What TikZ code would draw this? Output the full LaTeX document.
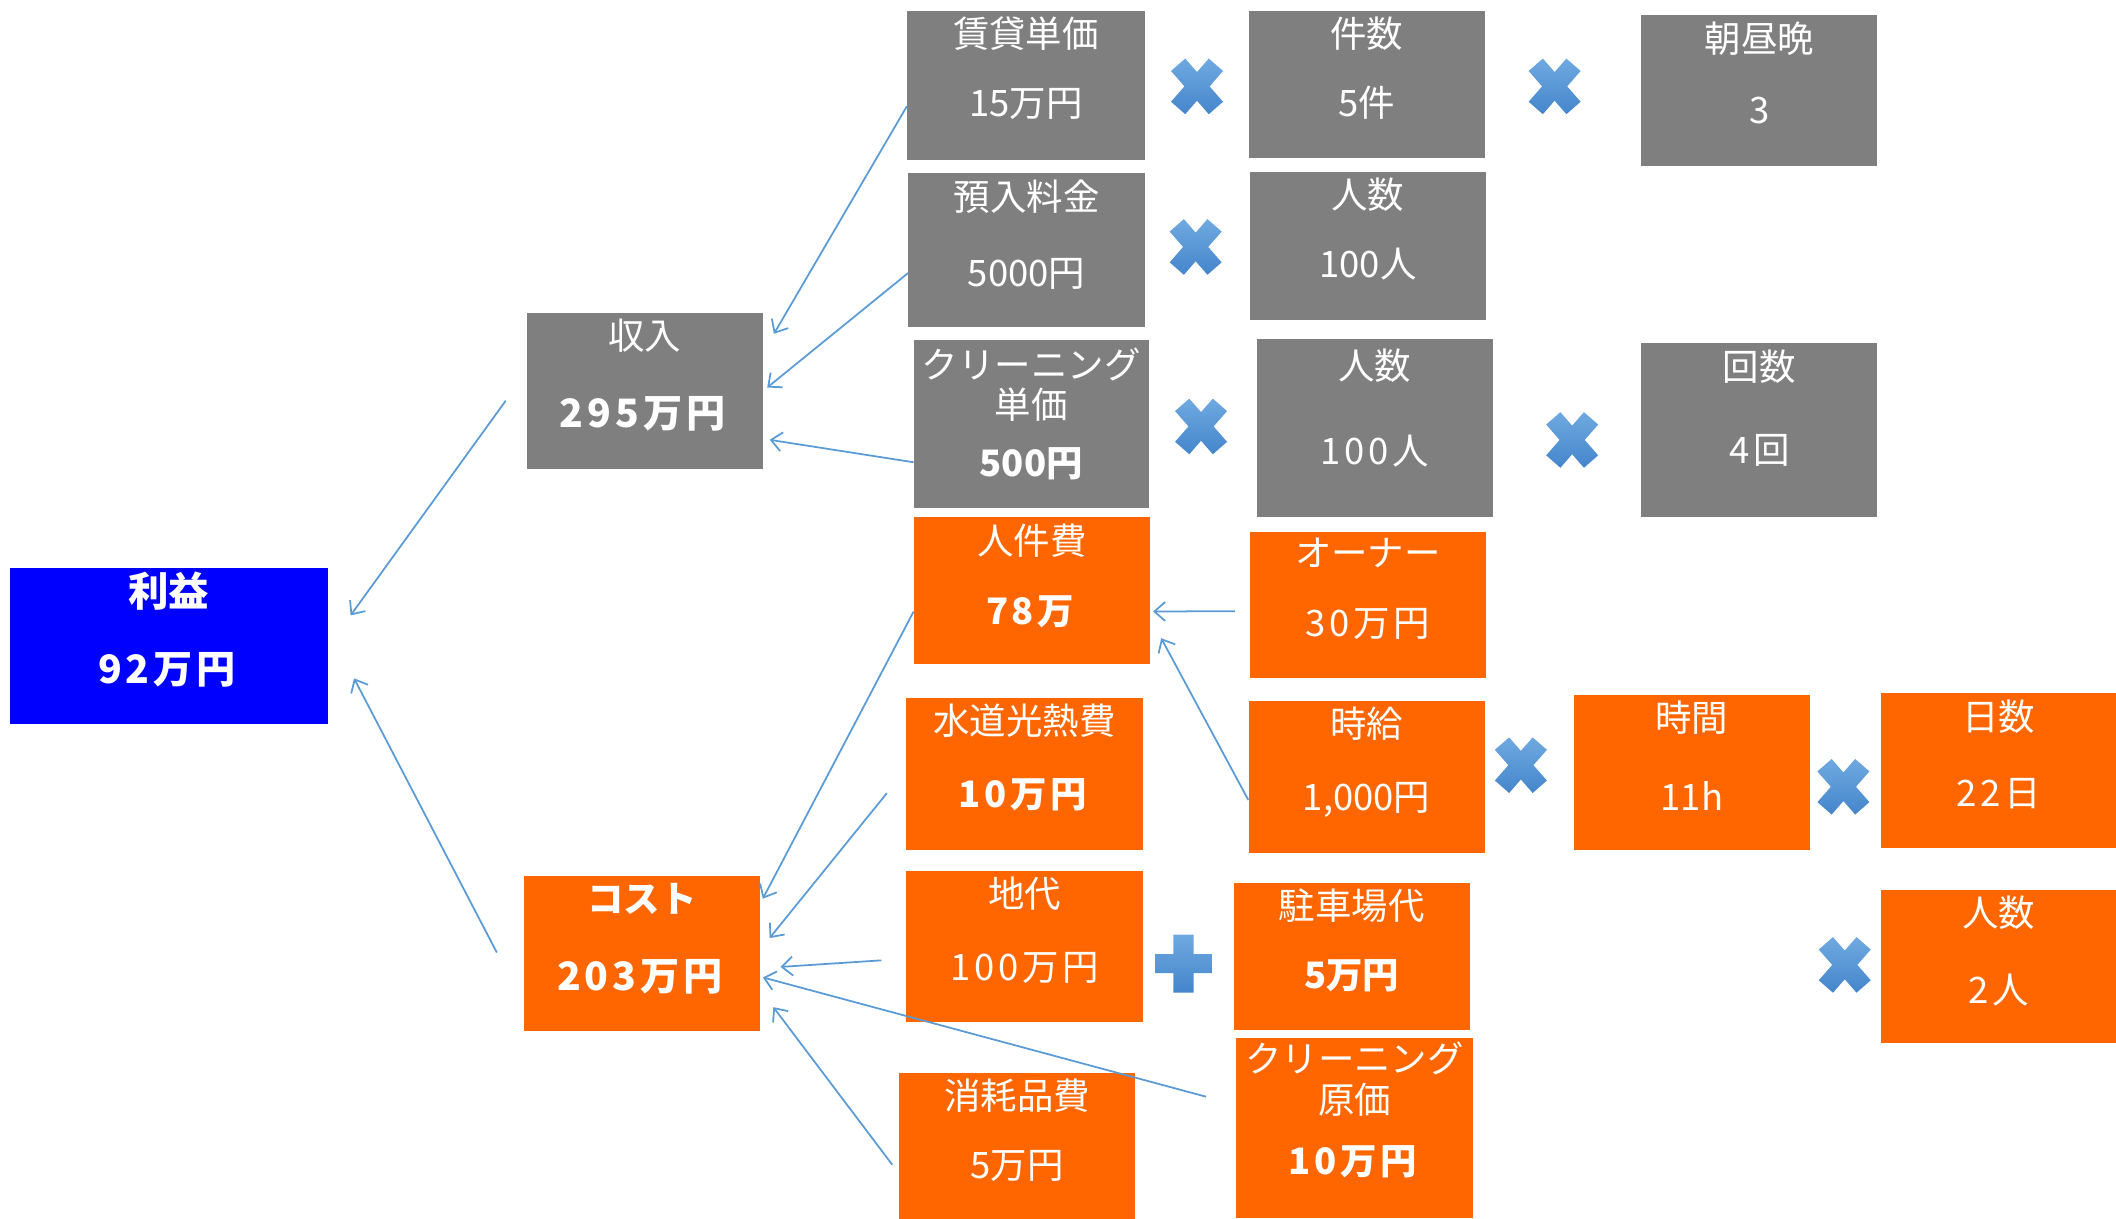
\documentclass[tikz,border=0pt]{standalone}
\usepackage{fontspec}
\setmainfont{Noto Sans CJK JP}
\newfontfamily\widefont[LetterSpace=10]{Noto Sans CJK JP}
\usepackage{tikz}
\usetikzlibrary{arrows.meta}
\definecolor{boxgray}{HTML}{7F7F7F}
\definecolor{boxorange}{HTML}{FF6600}
\definecolor{boxblue}{HTML}{0000FF}
\definecolor{linkblue}{HTML}{5B9BD5}
\definecolor{marklight}{HTML}{6FA9E0}
\definecolor{markdark}{HTML}{4485CB}

\begin{document}
\begin{tikzpicture}[x=1pt,y=-1pt]
    \tikzstyle{card} = [anchor=north west, shape=rectangle, inner sep=0, minimum width=175, minimum height=110]
    \tikzstyle{link} = [-{Straight Barb[length=8pt,width=14pt]}, draw=linkblue, line width=1.3pt]
    \tikzstyle{opsign} = [top color=marklight, bottom color=markdark, draw=none]
    \tikzstyle{wide} = [font=\widefont\fontsize{27}{30}\selectfont]
    \tikzstyle{bigwide} = [font=\widefont\fontsize{29}{32}\selectfont]
    \tikzset{ttl/.style={anchor=center, yshift=-#1pt, text=white, align=center, font=\fontsize{27}{30}\selectfont}, ttl/.default=17,
             val/.style={anchor=center, yshift=-#1pt, text=white, font=\fontsize{27}{30}\selectfont}, val/.default=72}
    \useasboundingbox (0,0) rectangle (1568,903);

    % income side
    \node[card, fill=boxgray, minimum width=176, label={[ttl]north:賃貸単価}, label={[val=69]north:15万円}] (rent) at (672,8) {};
    \node[card, fill=boxgray, minimum height=109, label={[ttl]north:件数}, label={[val=68]north:5件}] (cases) at (925,8) {};
    \node[card, fill=boxgray, minimum height=112, label={[ttl=18]north:朝昼晩}, label={[val=71]north:3}] (meals) at (1216,11) {};
    \node[card, fill=boxgray, minimum height=114, label={[ttl=18]north:預入料金}, label={[val=75]north:5000円}] (deposit) at (673,128) {};
    \node[card, fill=boxgray, label={[ttl]north:人数}, label={[val=69]north:100人}] (guests) at (926,127) {};
    \node[card, fill=boxgray, minimum height=115, label={[ttl]north:収入}, label={[val=75, bigwide]north:\textbf{295万円}}] (income) at (390,232) {};
    \node[card, fill=boxgray, minimum width=174, minimum height=124, label={[ttl=33]north:クリーニング\\単価}, label={[val=92]north:\textbf{500円}}] (cleanprice) at (677,252) {};
    \node[card, fill=boxgray, minimum height=132, label={[ttl=20]north:人数}, label={[val=83, wide]north:100人}] (users) at (931,251) {};
    \node[card, fill=boxgray, minimum height=129, label={[ttl=18]north:回数}, label={[val=80, wide]north:4回}] (times) at (1216,254) {};

    % cost side
    \node[card, fill=boxorange, minimum height=109, label={[ttl=18]north:人件費}, label={[val=70, wide]north:\textbf{78万}}] (labor) at (677,383) {};
    \node[card, fill=boxorange, minimum height=108, label={[ttl=16]north:オーナー}, label={[val=68, wide]north:30万円}] (owner) at (926,394) {};
    \node[card, fill=boxorange, minimum width=176, minimum height=113, label={[ttl]north:水道光熱費}, label={[val, wide]north:\textbf{10万円}}] (utility) at (671,517) {};
    \node[card, fill=boxorange, minimum height=113, label={[ttl]north:時給}, label={[val=74]north:1,000円}] (wage) at (925,519) {};
    \node[card, fill=boxorange, minimum height=115, label={[ttl]north:時間}, label={[val=75]north:11h}] (hours) at (1166,515) {};
    \node[card, fill=boxorange, minimum width=174, minimum height=115, label={[ttl=18]north:日数}, label={[val=75, wide]north:22日}] (days) at (1394,513) {};
    \node[card, fill=boxorange, minimum height=115, label={[ttl]north:\textbf{コスト}}, label={[val=75, bigwide]north:\textbf{203万円}}] (cost) at (388,649) {};
    \node[card, fill=boxorange, minimum width=176, minimum height=112, label={[ttl]north:地代}, label={[val, wide]north:100万円}] (land) at (671,645) {};
    \node[card, fill=boxorange, minimum height=109, label={[ttl]north:駐車場代}, label={[val=69]north:\textbf{5万円}}] (parking) at (914,654) {};
    \node[card, fill=boxorange, minimum width=174, minimum height=114, label={[ttl]north:人数}, label={[val=75, wide]north:2人}] (staff) at (1394,659) {};
    \node[card, fill=boxorange, minimum height=108, label={[ttl]north:消耗品費}, label={[val=69]north:5万円}] (supplies) at (666,795) {};
    \node[card, fill=boxorange, minimum height=133, label={[ttl=30.5]north:クリーニング\\原価}, label={[val=92, wide]north:\textbf{10万円}}] (cleancost) at (916,769) {};

    % result
    \node[card, fill=boxblue, minimum width=236, minimum height=115, label={[ttl, font=\fontsize{30}{32}\selectfont]north:\textbf{利益}}, label={[val=75, bigwide]north:\textbf{92万円}}] (profit) at (7,421) {};

    % operators
    \foreach \cx/\cy in {887/64, 1152/64, 886/183, 890/316, 1165/326, 1127/567, 1366/583, 1367/715}
    {
        \shade[opsign, shift={(\cx,\cy)}] (-8.73,-20.61) -- (0,-10.63) -- (8.73,-20.61) -- (19.27,-11.39) -- (9.30,0) -- (19.27,11.39) -- (8.73,20.61) -- (0,10.63) -- (-8.73,20.61) -- (-19.27,11.39) -- (-9.30,0) -- (-19.27,-11.39) -- cycle;
    }
    \shade[opsign, shift={(877,714)}] (-7.5,-21.5) -- (7.5,-21.5) -- (7.5,-7) -- (21,-7) -- (21,7) -- (7.5,7) -- (7.5,21.5) -- (-7.5,21.5) -- (-7.5,7) -- (-21,7) -- (-21,-7) -- (-7.5,-7) -- cycle;

    % connectors
    \draw[link, shorten <=26pt, shorten >=28pt] (income.171) -- (profit.east);
    \draw[link, shorten <=43pt, shorten >=41pt] (cost.203) -- (profit.6);
    \draw[link, shorten >=16pt] (rent.190) -- (income.18);
    \draw[link, shorten >=4pt] (deposit.191) -- (income.east);
    \draw[link, shorten >=5pt] (cleanprice.198) -- (income.-22);
    \draw[link, shorten >=4pt] (labor.190) -- (cost.23);
    \draw[link, shorten <=22pt, shorten >=11pt] (utility.178) -- (cost.2);
    \draw[link, shorten <=18pt, shorten >=15pt] (land.186) -- (cost.-7.5);
    \draw[link, shorten <=23pt, shorten >=2pt] (cleancost.169) -- (cost.-11);
    \draw[link, shorten <=8pt, shorten >=16pt] (supplies.193) -- (cost.-17);
    \draw[link, shorten <=11pt, shorten >=2pt] (owner.183) -- (labor.-10);
    \draw[link, shorten >=17pt] (wage.191) -- (labor.-13);
\end{tikzpicture}
\end{document}
